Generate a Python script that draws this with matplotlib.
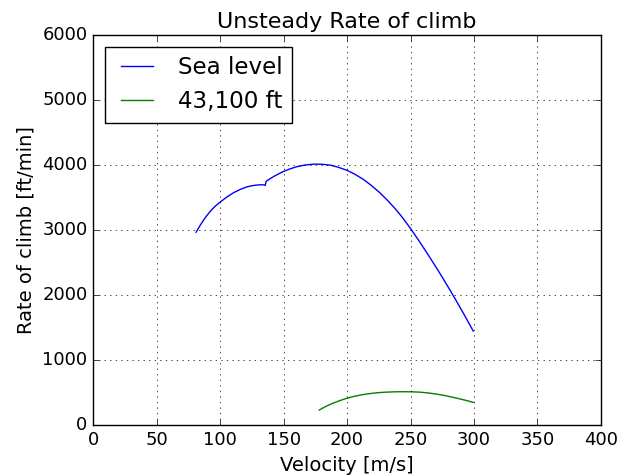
import numpy as np
import matplotlib
matplotlib.use('Agg')
import matplotlib.pyplot as plt

plt.style.use('classic')

# Sea level curve
vSea = [81.1, 84, 86.8, 89.5, 93, 96.5, 100, 105, 110.5, 116, 121, 125, 129, 132, 134.7, 135.5,
        136.3, 140, 143, 147.6, 150, 155, 160.5, 167, 173.6, 180, 186.8, 193, 200, 206, 213,
        219, 226, 232, 238, 244, 250, 256, 263, 270, 276, 280, 284, 288, 292, 296, 299.4]
rocSea = [2968, 3065, 3150, 3223, 3306, 3375, 3431, 3505, 3575, 3628, 3665, 3683, 3694, 3698, 3696, 3688,
          3752, 3799, 3834, 3881, 3903, 3942, 3976, 4002, 4015, 4014, 4000, 3968, 3920, 3862, 3778,
          3690, 3572, 3455, 3328, 3185, 3025, 2854, 2647, 2433, 2243, 2113, 1981, 1846, 1708, 1568, 1447]

# 43,100 ft curve
vHigh = [178, 183, 188, 194, 199.4, 205, 211, 217, 223.7, 230, 237, 243, 250, 257, 263, 270,
         276, 282, 288, 294, 299.4]
rocHigh = [232, 285, 330, 375, 411, 440, 465, 483, 498, 507, 512, 514, 513, 508, 497, 479,
           459, 434, 407, 379, 350]

fig = plt.figure(figsize=(6.17, 4.75), dpi=100)
ax = fig.add_subplot(111)
ax.plot(vSea, rocSea, 'b-', label='Sea level')
ax.plot(vHigh, rocHigh, 'g-', label='43,100 ft')

ax.set_xlim(0, 400)
ax.set_ylim(0, 6000)
ax.set_title('Unsteady Rate of climb', fontsize=16)
ax.set_xlabel('Velocity [m/s]', fontsize=14)
ax.set_ylabel('Rate of climb [ft/min]', fontsize=14)
ax.tick_params(labelsize=13)
ax.grid(True)
ax.legend(loc='upper left', fontsize=16.6)

fig.subplots_adjust(left=0.151, right=0.974, top=0.926, bottom=0.105)
fig.savefig('out.png', dpi=100)
